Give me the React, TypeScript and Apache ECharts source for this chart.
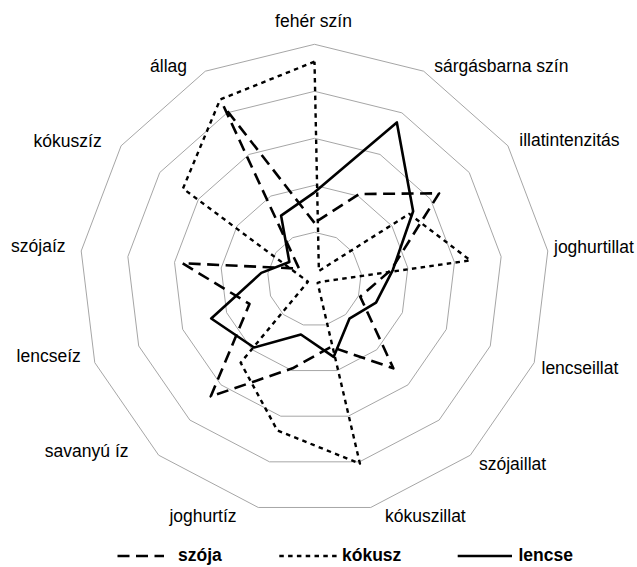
import React, { useEffect, useRef } from 'react';
import * as echarts from 'echarts';

// Categories in clockwise order, starting from the top
const categories = [
  'fehér szín',
  'sárgásbarna szín',
  'illatintenzitás',
  'joghurtillat',
  'lencseillat',
  'szójaillat',
  'kókuszillat',
  'joghurtíz',
  'savanyú íz',
  'lencseíz',
  'szójaíz',
  'kókuszíz',
  'állag',
];

const seriesNames = ['szója', 'kókusz', 'lencse'];

const szoja = [1.2, 2.05, 3.22, 1.64, 1.04, 2.53, 1.48, 1.95, 3.33, 1.48, 2.83, 0.4, 4.16];
const kokusz = [4.63, 0.2, 2.45, 3.34, 0.15, 0.1, 4.04, 3.31, 2.37, 0.15, 0.25, 3.4, 4.32];
const lencse = [1.85, 3.77, 2.55, 1.68, 1.4, 1.12, 1.7, 1.21, 1.94, 2.35, 1.14, 0.65, 1.53];

const scaleMax = 5;
const ringCount = 5;

// label anchors (x, y of text middle, alignment) in category order
const LABEL_LAYOUT: [number, number, string][] = [
  [313.5, 21.2, 'center'],
  [434.2, 65.6, 'left'],
  [519.3, 139.9, 'left'],
  [554.0, 247.2, 'left'],
  [541.5, 368.4, 'left'],
  [479.0, 464.4, 'left'],
  [385.0, 515.9, 'left'],
  [236.5, 515.9, 'right'],
  [128.5, 450.9, 'right'],
  [80.8, 356.2, 'right'],
  [65.5, 246.0, 'right'],
  [101.7, 140.6, 'right'],
  [187.0, 65.6, 'right'],
];

const FONT = '"Liberation Sans", Arial, sans-serif';
const DASH = [12, 6.5];
const DOT = [4.5, 4.3];

export default function App() {
  const ref = useRef<HTMLDivElement>(null);

  useEffect(() => {
    if (!ref.current) return;
    const chart = echarts.init(ref.current, null, { renderer: 'svg' });
    const n = categories.length;
    // ECharts radar runs counter-clockwise; reorder so that the chart reads clockwise
    const order = [0, ...Array.from({ length: n - 1 }, (_, k) => n - 1 - k)];
    const reorder = (arr: number[]) => order.map((i) => arr[i]);

    const labelGraphics = categories.map((name, i) => ({
      type: 'text',
      x: LABEL_LAYOUT[i][0],
      y: LABEL_LAYOUT[i][1],
      silent: true,
      style: {
        text: name,
        fill: '#000',
        font: `17.5px ${FONT}`,
        textAlign: LABEL_LAYOUT[i][2],
        textVerticalAlign: 'middle',
        align: LABEL_LAYOUT[i][2],
        verticalAlign: 'middle',
      },
    }));

    const legendY = 555;
    const legendItems = [
      { x1: 117.5, x2: 164, tx: 178, dash: DASH as number[] | null },
      { x1: 279.3, x2: 337.7, tx: 342, dash: DOT as number[] | null },
      { x1: 457.7, x2: 512, tx: 518.4, dash: null },
    ];
    const legendGraphics: any[] = [];
    legendItems.forEach((it, k) => {
      legendGraphics.push({
        type: 'line',
        silent: true,
        shape: { x1: it.x1, y1: legendY + 1, x2: it.x2, y2: legendY + 1 },
        style: { stroke: '#000', lineWidth: 2.6, lineDash: it.dash || undefined },
      });
      legendGraphics.push({
        type: 'text',
        x: it.tx,
        y: legendY,
        silent: true,
        style: {
          text: seriesNames[k],
          fill: '#000',
          font: `bold 17.5px ${FONT}`,
          textAlign: 'left',
          textVerticalAlign: 'middle',
          align: 'left',
          verticalAlign: 'middle',
        },
      });
    });

    chart.setOption({
      animation: false,
      backgroundColor: '#fff',
      radar: {
        center: [314.5, 279.3],
        radius: 235,
        startAngle: 90,
        shape: 'polygon',
        splitNumber: ringCount,
        indicator: order.map((i) => ({ name: categories[i], min: 0, max: scaleMax })),
        axisName: { show: false },
        axisLine: { show: false },
        axisTick: { show: false },
        axisLabel: { show: false },
        splitLine: { lineStyle: { color: '#a6a6a6', width: 1 } },
        splitArea: { show: false },
      },
      series: [
        {
          type: 'radar',
          symbol: 'none',
          silent: true,
          data: [
            {
              name: seriesNames[0],
              value: reorder(szoja),
              lineStyle: { color: '#000', width: 2.6, type: DASH },
              itemStyle: { color: '#000' },
            },
            {
              name: seriesNames[1],
              value: reorder(kokusz),
              lineStyle: { color: '#000', width: 2.4, type: DOT },
              itemStyle: { color: '#000' },
            },
            {
              name: seriesNames[2],
              value: reorder(lencse),
              lineStyle: { color: '#000', width: 2.6, type: 'solid' },
              itemStyle: { color: '#000' },
            },
          ],
        },
      ],
      graphic: [...labelGraphics, ...legendGraphics],
    });
    return () => chart.dispose();
  }, []);

  return (
    <div
      ref={ref}
      style={{ position: 'fixed', left: 0, top: 0, width: 637, height: 567, background: '#fff' }}
    />
  );
}
